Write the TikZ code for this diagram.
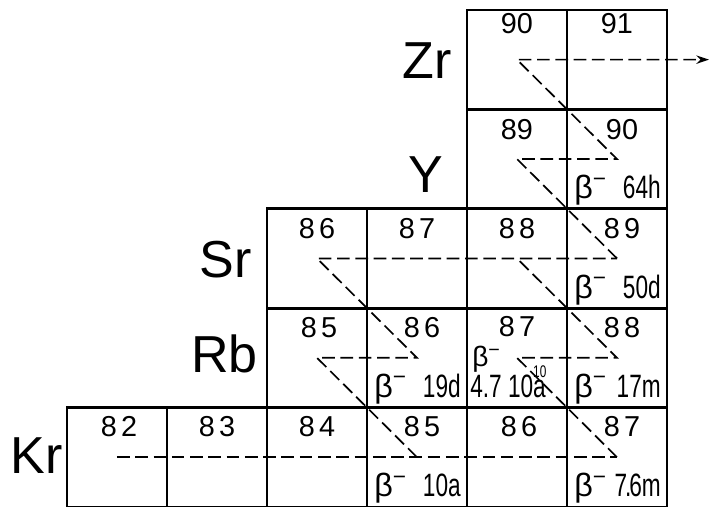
\documentclass[tikz,border=0pt]{standalone}
\usepackage{fontspec}
\setmainfont{Liberation Sans}
\newfontfamily\condfont[FakeStretch=0.7]{Liberation Sans}
\newfontfamily\widefont[LetterSpace=14]{Liberation Sans}
\usetikzlibrary{arrows.meta}
\newcommand{\betam}{{\rmfamily β\textsuperscript{−}}}
\tikzset{
  cellline/.style={line width=2pt, line cap=rect, xstep=2.5cm, ystep=2.485cm},
  sproc/.style={line width=1.2pt, dash pattern=on 9pt off 4pt},
  elem/.style={font=\fontsize{37}{40}\selectfont, anchor=east, inner sep=0pt},
  mass/.style={font=\fontsize{20.5}{22}\selectfont, inner sep=0pt},
  massw/.style={font=\widefont\fontsize{20.5}{22}\selectfont, inner sep=0pt},
  betal/.style={font=\condfont\fontsize{23}{25}\selectfont, inner sep=0pt, anchor=base west},
  halfl/.style={font=\condfont\fontsize{23}{25}\selectfont, inner sep=0pt, anchor=base east}
}

\begin{document}
\begin{tikzpicture}[x=2.5cm, y=2.485cm]
  \useasboundingbox (-0.67,0) rectangle (6.44,5.1);
  \draw[cellline] (0,0) grid (6,1);
  \draw[cellline] (2,1) grid (6,3);
  \draw[cellline] (4,3) grid (6,5);

  \node[elem] (zr) at (3.85,4.49) {Zr};
  \node[elem] (y) at (3.76,3.34) {Y};
  \node[elem] (sr) at (1.85,2.49) {Sr};
  \node[elem] (rb) at (1.91,1.54) {Rb};
  \node[elem] (kr) at (-0.04,0.52) {Kr};

  \node[mass] (m-zr90) at (4.5,4.86) {90};
  \node[mass] (m-zr91) at (5.5,4.86) {91};
  \node[mass] (m-y89) at (4.5,3.8) {89};
  \node[mass] (m-y90) at (5.55,3.8) {90};
  \node[massw] (m-sr86) at (2.5,2.8) {86};
  \node[massw] (m-sr87) at (3.5,2.8) {87};
  \node[massw] (m-sr88) at (4.5,2.8) {88};
  \node[massw] (m-sr89) at (5.55,2.8) {89};
  \node[massw] (m-rb85) at (2.52,1.8) {85};
  \node[massw] (m-rb86) at (3.55,1.8) {86};
  \node[massw] (m-rb87) at (4.5,1.81) {87};
  \node[massw] (m-rb88) at (5.55,1.8) {88};
  \node[massw] (m-kr82) at (0.52,0.81) {82};
  \node[massw] (m-kr83) at (1.5,0.81) {83};
  \node[massw] (m-kr84) at (2.5,0.81) {84};
  \node[massw] (m-kr85) at (3.55,0.81) {85};
  \node[massw] (m-kr86) at (4.52,0.81) {86};
  \node[massw] (m-kr87) at (5.55,0.81) {87};

  \node[betal] (b-y90) at (5.07,3.1) {\betam};
  \node[halfl] (t-y90) at (5.94,3.1) {64h};
  \node[betal] (b-sr89) at (5.07,2.1) {\betam};
  \node[halfl] (t-sr89) at (5.94,2.1) {50d};
  \node[betal] (b-rb86) at (3.07,1.1) {\betam};
  \node[halfl] (t-rb86) at (3.94,1.1) {19d};
  \node[betal, font=\condfont\fontsize{20}{22}\selectfont] (b-rb87) at (4.05,1.41) {\betam};
  \node[betal] (t-rb87) at (4.03,1.1) {4.7 10\rlap{\raisebox{1.2ex}{\fontsize{12}{12}\selectfont 10}}a};
  \node[betal] (b-rb88) at (5.07,1.1) {\betam};
  \node[halfl] (t-rb88) at (5.94,1.1) {17m};
  \node[betal] (b-kr85) at (3.07,0.1) {\betam};
  \node[halfl] (t-kr85) at (3.94,0.1) {10a};
  \node[betal] (b-kr87) at (5.07,0.1) {\betam};
  \node[halfl] (t-kr87) at (5.94,0.1) {7\kern-1.5pt.\kern-1.5pt6m};

  \coordinate (Kr82) at (0.5,0.5);
  \coordinate (Kr85) at (3.5,0.5);
  \coordinate (Kr87) at (5.5,0.5);
  \coordinate (Rb85) at (2.5,1.5);
  \coordinate (Rb86) at (3.5,1.5);
  \coordinate (Rb87) at (4.5,1.5);
  \coordinate (Rb88) at (5.5,1.5);
  \coordinate (Sr86) at (2.5,2.5);
  \coordinate (Sr88) at (4.5,2.5);
  \coordinate (Sr89) at (5.5,2.5);
  \coordinate (Y89) at (4.5,3.5);
  \coordinate (Y90) at (5.5,3.5);
  \coordinate (Zr90) at (4.5,4.5);
  \coordinate (out) at (6.42,4.5);

  \draw[sproc] (Kr82) -- (Kr87);
  \draw[sproc] (Kr85) -- (Rb85) -- (Rb86) -- (Sr86) -- (Sr89);
  \draw[sproc] (Kr87) -- (Rb87) -- (Rb88) -- (Sr88);
  \draw[sproc, -{Stealth[length=9pt, width=6pt]}] (Sr89) -- (Y89) -- (Y90) -- (Zr90) -- (out);
\end{tikzpicture}
\end{document}
